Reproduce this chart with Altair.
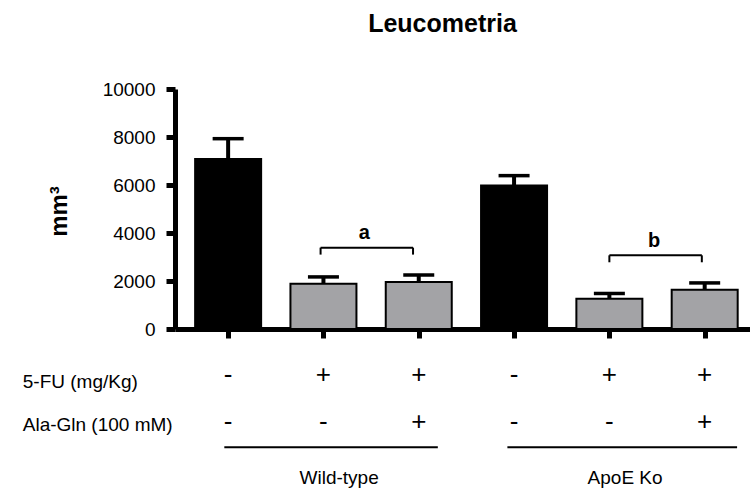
import altair as alt
import pandas as pd

FONT = "Liberation Sans"

# ---- bar data ----
positions = [1, 2, 3, 4, 5, 6]
means = [7080, 1890, 1960, 5980, 1260, 1640]
upper = [7930, 2170, 2250, 6390, 1480, 1920]
kinds = ["control", "treated", "treated", "control", "treated", "treated"]

# ---- treatment table ----
fu_signs = ["-", "+", "+", "-", "+", "+"]
ala_signs = ["-", "-", "+", "-", "-", "+"]
sign_row_y = [-1920, -3870]
row_labels = ["5-FU (mg/Kg)", "Ala-Gln (100 mM)"]
row_label_y = [-2200, -4000]
row_label_x = [-1.155, -1.155]

# ---- significance brackets ----
bracket_labels = ["a", "b"]
bracket_x1 = [1.97, 5.0]
bracket_x2 = [2.94, 5.97]
bracket_y = [3390, 3070]
bracket_foot = [3100, 2780]
bracket_text_x = [2.43, 5.47]
bracket_text_y = [4010, 3650]

# ---- groups ----
group_names = ["Wild-type", "ApoE Ko"]
group_x1 = [0.96, 3.93]
group_x2 = [3.2, 6.34]
group_line_y = [-4930, -4930]
group_text_x = [2.165, 5.165]
group_text_y = [-6220, -6220]

bars = pd.DataFrame({"pos": positions, "mean": means, "upper": upper, "kind": kinds})
signs = pd.DataFrame({
    "pos": positions * 2,
    "y": [sign_row_y[0]] * 6 + [sign_row_y[1]] * 6,
    "sign": fu_signs + ala_signs,
})
rows = pd.DataFrame({"pos": row_label_x, "y": row_label_y, "label": row_labels})
br = pd.DataFrame({"x1": bracket_x1, "x2": bracket_x2, "y": bracket_y, "foot": bracket_foot,
                   "tx": bracket_text_x, "ty": bracket_text_y, "label": bracket_labels})
feet = pd.DataFrame({"x": bracket_x1 + bracket_x2, "y": bracket_y * 2, "foot": bracket_foot * 2})
grp = pd.DataFrame({"x1": group_x1, "x2": group_x2, "y": group_line_y,
                    "tx": group_text_x, "ty": group_text_y, "name": group_names})

xscale = alt.Scale(domain=[0.495, 6.423], nice=False, zero=False)
yscale = alt.Scale(domain=[0, 10000], nice=False)
xax = alt.Axis(values=positions, labels=False, title=None, grid=False, tickSize=9,
               tickWidth=5, domainWidth=5, tickColor="black", domainColor="black")
yax = alt.Axis(values=[0, 2000, 4000, 6000, 8000, 10000], format="d", title="mm³", grid=False,
               tickSize=9, tickWidth=5, domainWidth=5, tickColor="black", domainColor="black",
               labelFont=FONT, labelFontSize=19, labelColor="black", labelPadding=11,
               titleFont=FONT, titleFontSize=24, titleFontWeight="bold", titleColor="black",
               titleX=-109, titleY=122, titleBaseline="alphabetic", titleAlign="center")

def X(f):
    return alt.X(f, type="quantitative", scale=xscale, axis=xax)

def Y(f):
    return alt.Y(f, type="quantitative", scale=yscale, axis=yax)

bar_layer = alt.Chart(bars).mark_bar(size=66, orient="vertical", stroke="black", strokeWidth=2).encode(
    x=X("pos"), y=Y("mean"),
    color=alt.Color("kind:N", scale=alt.Scale(domain=["control", "treated"],
                                             range=["#000000", "#A3A3A6"]), legend=None),
)
stem = alt.Chart(bars).mark_rule(strokeWidth=4, color="black").encode(
    x=X("pos"), y=Y("mean"), y2="upper")
cap = alt.Chart(bars).mark_tick(orient="horizontal", size=31, thickness=3.5,
                                color="black", opacity=1).encode(x=X("pos"), y=Y("upper"))

br_line = alt.Chart(br).mark_rule(strokeWidth=2, color="black").encode(
    x=X("x1"), x2="x2", y=Y("y"))
br_feet = alt.Chart(feet).mark_rule(strokeWidth=2, color="black").encode(
    x=X("x"), y=Y("y"), y2="foot")
br_text = alt.Chart(br).mark_text(font=FONT, fontSize=20, fontWeight="bold", color="black",
                                  baseline="middle").encode(
    x=X("tx"), y=Y("ty"), text="label:N")

sign_text = alt.Chart(signs).mark_text(font=FONT, fontSize=26, color="black",
                                       baseline="middle").encode(
    x=X("pos"), y=Y("y"), text="sign:N")
row_text = alt.Chart(rows).mark_text(font=FONT, fontSize=19, color="black", align="left",
                                     baseline="middle").encode(
    x=X("pos"), y=Y("y"), text="label:N")
grp_line = alt.Chart(grp).mark_rule(strokeWidth=2, color="black").encode(
    x=X("x1"), x2="x2", y=Y("y"))
grp_text = alt.Chart(grp).mark_text(font=FONT, fontSize=19, color="black",
                                    baseline="middle").encode(
    x=X("tx"), y=Y("ty"), text="name:N")

chart = alt.layer(
    bar_layer, stem, cap, br_line, br_feet, br_text,
    sign_text, row_text, grp_line, grp_text,
).properties(
    width=575, height=240,
    autosize=alt.AutoSizeParams(type="none"),
    padding={"left": 175, "top": 89, "right": 0, "bottom": 159},
    title=alt.TitleParams("Leucometria", font=FONT, fontSize=25, fontWeight="bold",
                          color="black", anchor="middle", frame="group", dx=-20, offset=43),
).configure_view(stroke=None)

chart.save("out.html", embed_options={"renderer": "svg", "actions": False})
